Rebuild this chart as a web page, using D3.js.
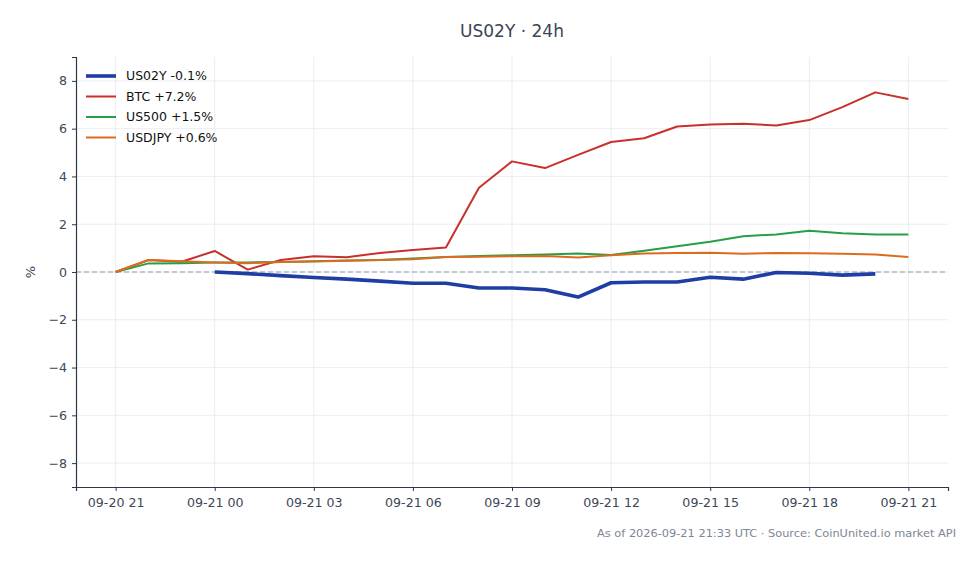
<!DOCTYPE html>
<html>
<head>
<meta charset="utf-8">
<script src="https://cdn.jsdelivr.net/npm/d3@7"></script>
<style>
body { margin: 0; background: #fff; }
svg { font-family: "DejaVu Sans", sans-serif; }
</style>
</head>
<body>
<svg id="chart" width="980" height="564"></svg>
<script>
// hourly % change from 09-20 21:00 UTC
var startTime = Date.UTC(2026, 8, 20, 21)
var btc = [0, 0.5, 0.43, 0.88, 0.1, 0.5, 0.66, 0.62, 0.8, 0.92, 1.03, 3.53, 4.63, 4.35, 4.9, 5.44, 5.6, 6.09, 6.17, 6.21, 6.13, 6.36, 6.9, 7.52, 7.24]
var us500 = [0, 0.36, 0.37, 0.4, 0.4, 0.42, 0.45, 0.48, 0.5, 0.56, 0.63, 0.67, 0.7, 0.73, 0.77, 0.71, 0.89, 1.08, 1.27, 1.5, 1.57, 1.73, 1.62, 1.57, 1.57]
var usdjpy = [0, 0.5, 0.45, 0.4, 0.37, 0.42, 0.44, 0.47, 0.5, 0.53, 0.63, 0.64, 0.66, 0.67, 0.61, 0.7, 0.77, 0.8, 0.81, 0.76, 0.8, 0.78, 0.76, 0.73, 0.63]
// US02Y starts at 09-21 00 and ends at 09-21 20
var us02y = [0, -0.07, -0.15, -0.23, -0.3, -0.38, -0.47, -0.47, -0.67, -0.67, -0.74, -1.05, -0.45, -0.42, -0.42, -0.22, -0.3, -0.02, -0.05, -0.13, -0.08]
var us02yOffset = 3
var names = ["US02Y -0.1%", "BTC +7.2%", "US500 +1.5%", "USDJPY +0.6%"]
var colors = ["#1f3ea3", "#c9302c", "#26a047", "#dd6b1f"]
var widths = [3.6, 2, 2, 2]
var yTicks = [-8, -6, -4, -2, 0, 2, 4, 6, 8]

var svg = d3.select("#chart")
var margin = {left: 76, right: 32, top: 57, bottom: 77}
var W = 980, H = 564

function toPoints(arr, offset) {
    return arr.map((v, i) => ({t: new Date(startTime + (i + offset) * 3600000), v: v}))
}
var series = [toPoints(us02y, us02yOffset), toPoints(btc, 0), toPoints(us500, 0), toPoints(usdjpy, 0)]

var t0 = new Date(startTime), t1 = new Date(startTime + 24 * 3600000)
var pad = 1.2 * 3600000
var x = d3.scaleUtc().domain([new Date(+t0 - pad), new Date(+t1 + pad)]).range([margin.left, W - margin.right])
var y = d3.scaleLinear().domain([-9, 9]).range([H - margin.bottom, margin.top])
var xTicks = d3.range(0, 9).map(i => new Date(startTime + i * 3 * 3600000))

// grid
svg.append("g").selectAll("line").data(xTicks).join("line")
    .attr("x1", d => x(d)).attr("x2", d => x(d))
    .attr("y1", margin.top).attr("y2", H - margin.bottom)
    .attr("stroke", "#e6e9ee").attr("stroke-width", 0.8)
svg.append("g").selectAll("line").data(yTicks).join("line")
    .attr("x1", margin.left).attr("x2", W - margin.right)
    .attr("y1", d => y(d)).attr("y2", d => y(d))
    .attr("stroke", "#e6e9ee").attr("stroke-width", 0.8)

// zero line
svg.append("line")
    .attr("x1", margin.left).attr("x2", W - margin.right)
    .attr("y1", y(0)).attr("y2", y(0))
    .attr("stroke", "#8a9bb0").attr("stroke-width", 1).attr("stroke-dasharray", "5,3")

// axes
var xAxis = svg.append("g").attr("transform", "translate(0," + (H - margin.bottom) + ")")
    .call(d3.axisBottom(x).tickValues(xTicks).tickFormat(d3.utcFormat("%m-%d %H")).tickSizeOuter(0).tickSize(4).tickPadding(7))
var yAxis = svg.append("g").attr("transform", "translate(" + margin.left + ",0)")
    .call(d3.axisLeft(y).tickValues(yTicks).tickSizeOuter(0).tickSize(4).tickPadding(5))
;[xAxis, yAxis].forEach(a => {
    a.select(".domain").attr("stroke", "#2d3748").attr("stroke-width", 1.2)
    a.selectAll(".tick line").attr("stroke", "#2d3748")
    a.selectAll("text").attr("fill", "#3d4757").style("font-size", "12.6px").style("font-family", "DejaVu Sans")
})

// lines
var line = d3.line().x(d => x(d.t)).y(d => y(d.v))
series.forEach((s, i) => {
    svg.append("path").datum(s)
        .attr("d", line)
        .attr("fill", "none")
        .attr("stroke", colors[i])
        .attr("stroke-width", widths[i])
        .attr("stroke-linejoin", "round")
})

// legend
var legend = svg.append("g").attr("transform", "translate(86,76)")
names.forEach((n, i) => {
    var g = legend.append("g").attr("transform", "translate(0," + i * 20.5 + ")")
    g.append("line").attr("x1", 0).attr("x2", 30).attr("y1", 0).attr("y2", 0)
        .attr("stroke", colors[i]).attr("stroke-width", widths[i])
    g.append("text").attr("x", 40).attr("y", 0).attr("dy", "0.35em")
        .style("font-size", "12.5px").attr("fill", "#111").text(n)
})

// title, labels
svg.append("text").attr("x", (margin.left + W - margin.right) / 2).attr("y", 37)
    .attr("text-anchor", "middle").style("font-size", "17px").attr("fill", "#3b4556").text("US02Y · 24h")
svg.append("text").attr("transform", "translate(35," + y(0) + ") rotate(-90)")
    .attr("text-anchor", "middle").style("font-size", "13px").attr("fill", "#3d4757").text("%")
svg.append("text").attr("x", 956).attr("y", 537).attr("text-anchor", "end")
    .style("font-size", "11.35px").attr("fill", "#7d8694")
    .text("As of 2026-09-21 21:33 UTC · Source: CoinUnited.io market API")
</script>
</body>
</html>
